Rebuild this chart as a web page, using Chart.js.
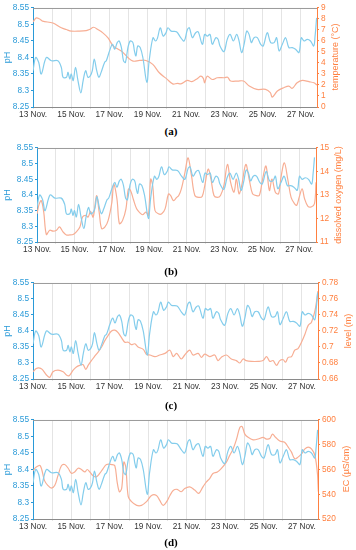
<!DOCTYPE html>
<html>
<head>
<meta charset="utf-8">
<script src="https://cdn.jsdelivr.net/npm/chart.js@4/dist/chart.umd.min.js"></script>
<style>
  body { margin: 0; background: #fff; width: 356px; height: 550px; position: relative; overflow: hidden;
         font-family: "Liberation Sans", Arial, sans-serif; }
  canvas { position: absolute; left: 0; }
  .rt  { position: absolute; color: #ff8040; font-size: 9px; white-space: nowrap;
         transform: translate(-50%, -50%) rotate(-90deg); }
  .lbl { position: absolute; font: bold 11px "Liberation Serif", "DejaVu Serif", serif; color: #000;
         transform: translate(-50%, -50%); }
</style>
</head>
<body>
<canvas id="ca"></canvas>
<canvas id="cb"></canvas>
<canvas id="cc"></canvas>
<canvas id="cd"></canvas>
<script>
// pH (same record in every panel), day of November
const phDays = [13.0, 13.14, 13.3, 13.43, 13.7, 13.96, 14.3, 14.48, 14.57, 14.75, 14.83, 14.92, 15.0, 15.1, 15.22,
  15.35, 15.5, 15.62, 15.75, 15.87, 16.0, 16.1, 16.2, 16.33, 16.44, 16.56, 16.74, 16.83, 17.0, 17.15, 17.27, 17.4,
  17.5, 17.62, 17.73, 17.83, 17.96, 18.08, 18.22, 18.3, 18.38, 18.47, 18.6, 18.74, 18.95, 19.07, 19.27, 19.4, 19.5,
  19.65, 19.8, 19.95, 20.05, 20.22, 20.5, 20.72, 20.9, 21.07, 21.17, 21.33, 21.5, 21.63, 21.85, 21.97, 22.11, 22.25,
  22.37, 22.55, 22.67, 22.77, 22.98, 23.15, 23.3, 23.47, 23.64, 23.76, 23.9, 24.03, 24.17, 24.29, 24.41, 24.55,
  24.72, 24.9, 25.03, 25.24, 25.42, 25.6, 25.73, 25.86, 26.03, 26.2, 26.37, 26.55, 26.72, 26.9, 27.02, 27.16,
  27.33, 27.5, 27.67, 27.74, 27.82];
const phValues = [8.36, 8.40, 8.385, 8.35, 8.40, 8.39, 8.39, 8.37, 8.34, 8.34, 8.355, 8.335, 8.35, 8.33, 8.37,
  8.33, 8.293, 8.33, 8.36, 8.34, 8.345, 8.36, 8.395, 8.36, 8.34, 8.355, 8.385, 8.39, 8.42, 8.44, 8.425, 8.445,
  8.45, 8.43, 8.39, 8.385, 8.43, 8.45, 8.445, 8.42, 8.405, 8.435, 8.43, 8.40, 8.325, 8.39, 8.46, 8.45, 8.458,
  8.49, 8.465, 8.475, 8.49, 8.48, 8.478, 8.46, 8.45, 8.485, 8.49, 8.46, 8.475, 8.478, 8.44, 8.47, 8.465, 8.47,
  8.44, 8.46, 8.455, 8.435, 8.418, 8.455, 8.47, 8.45, 8.47, 8.452, 8.415, 8.44, 8.48, 8.47, 8.445, 8.46,
  8.46, 8.44, 8.435, 8.475, 8.445, 8.445, 8.46, 8.42, 8.44, 8.46, 8.43, 8.43, 8.425, 8.415, 8.46, 8.45,
  8.455, 8.45, 8.435, 8.465, 8.52];

// (a) water temperature
const tempDays = [13.0, 13.17, 13.35, 13.5, 14.04, 14.48, 14.74, 15.0, 15.43, 15.78, 15.95, 16.17, 16.39, 16.65,
  16.92, 17.2, 17.63, 17.97, 18.23, 18.57, 18.9, 19.26, 19.6, 19.96, 20.3, 20.55, 20.72, 21.07, 21.3, 21.6, 21.77,
  21.9, 21.97, 22.1, 22.37, 22.63, 23.0, 23.17, 23.33, 23.7, 24.0, 24.3, 24.7, 25.15, 25.4, 25.5, 25.77, 26.1,
  26.37, 26.55, 26.8, 27.07, 27.42, 27.68, 27.84];
const tempValues = [7.73, 8.1, 8.0, 7.8, 7.64, 7.2, 7.04, 6.9, 6.9, 6.95, 7.04, 7.25, 7.04, 6.74,
  6.28, 5.53, 5.07, 4.47, 4.17, 4.23, 4.23, 3.87, 3.11, 2.6, 2.1, 2.15, 2.1, 2.42, 2.3, 2.6, 2.8,
  2.6, 2.2, 2.8, 2.5, 2.66, 2.66, 2.7, 2.36, 2.36, 2.36, 1.9, 1.6, 1.6, 1.3, 0.9, 1.45, 1.75,
  1.9, 1.7, 2.2, 2.42, 2.3, 2.2, 2.0];

// (b) dissolved oxygen
const doDays = [13.0, 13.11, 13.23, 13.36, 13.5, 13.68, 13.86, 14.04, 14.2, 14.39, 14.57, 14.75, 14.93, 15.1,
  15.29, 15.43, 15.61, 15.73, 15.86, 16.0, 16.18, 16.32, 16.45, 16.63, 16.8, 17.0, 17.1, 17.27, 17.4, 17.57,
  17.75, 17.88, 18.0, 18.14, 18.32, 18.46, 18.64, 18.82, 18.95, 19.07, 19.18, 19.3, 19.48, 19.66, 19.84, 20.02,
  20.14, 20.29, 20.46, 20.57, 20.71, 20.9, 21.07, 21.25, 21.43, 21.64, 21.82, 21.96, 22.14, 22.29, 22.45, 22.63,
  22.8, 22.98, 23.17, 23.34, 23.52, 23.65, 23.79, 23.93, 24.15, 24.33, 24.51, 24.69, 24.87, 25.05, 25.23, 25.41,
  25.55, 25.73, 25.9, 26.03, 26.21, 26.39, 26.57, 26.75, 26.87, 27.0, 27.16, 27.29, 27.46, 27.64, 27.82, 27.9];
const doValues = [12.2, 12.6, 12.76, 12.27, 11.32, 11.5, 11.46, 11.5, 11.64, 11.43, 11.3, 11.3, 11.32, 11.43,
  11.64, 12.06, 12.13, 12.06, 12.3, 12.06, 12.97, 12.27, 11.57, 11.64, 11.92, 12.7, 13.46, 12.83, 11.78, 11.92,
  12.41, 13.25, 13.18, 12.83, 12.41, 12.27, 12.16, 12.27, 12.13, 13.67, 13.39, 12.34, 12.2, 12.2, 12.41, 13.04,
  12.97, 12.76, 12.9, 12.98, 13.26, 13.95, 14.58, 13.82, 12.98, 12.9, 12.94, 13.4, 14.1, 13.68, 12.98, 12.9,
  12.98, 13.4, 14.3, 13.54, 13.12, 13.68, 13.05, 13.4, 14.3, 13.68, 13.05, 12.98, 12.98, 13.68, 14.23, 13.19,
  13.68, 13.12, 13.05, 13.75, 14.37, 13.68, 12.9, 12.63, 12.56, 12.9, 13.26, 12.84, 12.53, 12.49, 12.63, 13.54];

// (c) water level
const levelDays = [13.0, 13.17, 13.3, 13.48, 13.7, 13.87, 14.04, 14.3, 14.57, 14.74, 14.88, 15.09, 15.26, 15.43,
  15.6, 15.75, 15.87, 16.04, 16.2, 16.4, 16.57, 16.74, 16.9, 17.09, 17.26, 17.43, 17.6, 17.78, 17.96, 18.12, 18.3,
  18.47, 18.74, 18.9, 19.09, 19.35, 19.6, 19.87, 20.13, 20.3, 20.48, 20.72, 20.9, 21.16, 21.33, 21.6, 21.77, 21.94,
  22.2, 22.46, 22.63, 22.8, 23.07, 23.33, 23.59, 23.77, 23.94, 24.1, 24.37, 24.72, 24.98, 25.16, 25.33, 25.5,
  25.68, 25.85, 26.03, 26.15, 26.29, 26.46, 26.63, 26.8, 26.98, 27.16, 27.33, 27.5, 27.68, 27.84];
const levelValues = [0.669, 0.673, 0.674, 0.672, 0.665, 0.662, 0.669, 0.671, 0.669, 0.665, 0.664, 0.671, 0.675, 0.677,
  0.678, 0.672, 0.677, 0.683, 0.688, 0.694, 0.700, 0.708, 0.714, 0.720, 0.721, 0.718, 0.712, 0.706, 0.706, 0.703, 0.704,
  0.700, 0.697, 0.691, 0.690, 0.688, 0.690, 0.692, 0.696, 0.688, 0.692, 0.685, 0.690, 0.696, 0.690, 0.692, 0.687, 0.691,
  0.688, 0.690, 0.683, 0.687, 0.690, 0.685, 0.683, 0.680, 0.685, 0.683, 0.682, 0.682, 0.683, 0.688, 0.682, 0.683,
  0.677, 0.683, 0.684, 0.681, 0.687, 0.688, 0.696, 0.698, 0.706, 0.716, 0.727, 0.731, 0.745, 0.770];

// (d) electrical conductivity
const ecDays = [13.0, 13.17, 13.38, 13.6, 13.78, 13.96, 14.13, 14.3, 14.48, 14.65, 14.83, 15.0, 15.17, 15.35,
  15.52, 15.7, 15.82, 15.96, 16.13, 16.3, 16.48, 16.65, 16.83, 17.09, 17.26, 17.38, 17.5, 17.62, 17.73, 17.83,
  17.96, 18.13, 18.4, 18.65, 18.91, 19.17, 19.43, 19.6, 19.78, 19.96, 20.13, 20.3, 20.5, 20.72, 20.9, 21.16,
  21.42, 21.63, 21.85, 22.03, 22.2, 22.37, 22.6, 22.8, 23.07, 23.24, 23.42, 23.6, 23.77, 23.89, 24.03, 24.2,
  24.46, 24.72, 24.98, 25.16, 25.33, 25.47, 25.63, 25.85, 26.1, 26.29, 26.46, 26.63, 26.8, 26.98, 27.16, 27.33,
  27.5, 27.68, 27.82, 27.86];
const ecValues = [559, 562, 563, 551, 547, 545, 547, 555, 563, 564, 561, 557, 558, 561,
  560, 558, 560, 558, 555, 554, 557, 560.7, 564, 564, 563, 550, 542, 545, 566, 562,
  538, 534, 531, 531, 534, 539, 539, 535, 531, 534, 539, 543, 544, 542, 544.7, 546,
  543.4, 540.7, 546, 550, 552.7, 556.7, 558, 560.7, 566, 571.3, 576.6, 584.6, 593.9, 594.7, 588.6, 586,
  584, 584.6, 586, 584.6, 585, 588.6, 586, 583, 582, 578, 574, 568.6, 570, 572.6, 576.6, 578,
  576.6, 571.3, 555, 542];

const BLUE_AXIS = '#2a9ad8', BLUE_LINE = '#84cdec';
const ORANGE_AXIS = '#ff8040', ORANGE_LINE = '#f7ae94';
const FONT = { family: '"Liberation Sans", Arial, sans-serif', size: 8.3 };

const pairs = (xs, ys) => xs.map((x, i) => ({ x, y: ys[i] }));
const fmt = v => String(Math.round(v * 100) / 100);

// top border of each axes box
const boxTop = {
  id: 'boxTop',
  afterDraw(chart) {
    const { ctx, chartArea: a } = chart;
    ctx.save();
    ctx.strokeStyle = '#9a9a9a';
    ctx.lineWidth = 1;
    ctx.beginPath();
    ctx.moveTo(a.left, a.top + 0.5);
    ctx.lineTo(a.right, a.top + 0.5);
    ctx.stroke();
    ctx.restore();
  },
};

const panels = [
  { id: 'ca', plotTop: 7,   plotH: 100, left: 33, right: 39, xMax: 27.84,
    days: tempDays, values: tempValues, rMin: 0, rMax: 9, rStep: 1,
    rTitle: 'temperature (°C)', rtX: 335, label: '(a)', labelY: 131 },
  { id: 'cb', plotTop: 147, plotH: 95,  left: 37, right: 40, xMax: 27.9,
    days: doDays, values: doValues, rMin: 11, rMax: 15, rStep: 1,
    rTitle: 'dissolved oxygen (mg/L)', rtX: 338, label: '(b)', labelY: 271 },
  { id: 'cc', plotTop: 282, plotH: 97,  left: 33, right: 38, xMax: 27.84,
    days: levelDays, values: levelValues, rMin: 0.66, rMax: 0.78, rStep: 0.02,
    rTitle: 'level (m)', rtX: 348, label: '(c)', labelY: 405 },
  { id: 'cd', plotTop: 419, plotH: 100, left: 33, right: 38, xMax: 27.84,
    days: ecDays, values: ecValues, rMin: 520, rMax: 600, rStep: 20,
    rTitle: 'EC (µS/cm)', rtX: 346, label: '(d)', labelY: 542 },
];

panels.forEach(p => {
  const cv = document.getElementById(p.id);
  const padTop = 6, xH = 14;
  cv.width = 356;
  cv.height = padTop + p.plotH + xH;
  cv.style.top = (p.plotTop - padTop) + 'px';

  new Chart(cv, {
    type: 'line',
    data: {
      datasets: [
        { data: pairs(phDays, phValues), yAxisID: 'y', borderColor: BLUE_LINE,
          borderWidth: 1.2, pointRadius: 0, tension: 0.35 },
        { data: pairs(p.days, p.values), yAxisID: 'y2', borderColor: ORANGE_LINE,
          borderWidth: 1.2, pointRadius: 0, tension: 0.35 },
      ],
    },
    options: {
      responsive: false,
      animation: false,
      layout: { padding: { top: padTop, left: 0, right: 0, bottom: 0 } },
      plugins: { legend: { display: false }, tooltip: { enabled: false } },
      scales: {
        x: {
          type: 'linear', min: 13, max: p.xMax,
          afterFit: s => { s.width = s.width; s.height = xH; },
          ticks: { stepSize: 1, autoSkip: false, includeBounds: false, maxRotation: 0, padding: 1,
                   color: '#333', font: FONT,
                   callback: v => (Number.isInteger(v) && v % 2 === 1 ? v + ' Nov.' : '') },
          grid: { color: '#e4e4e4', lineWidth: 1, tickLength: 2 },
          border: { color: '#8a8a8a' },
        },
        y: {
          position: 'left', min: 8.25, max: 8.55,
          afterFit: s => { s.width = p.left; },
          ticks: { stepSize: 0.05, autoSkip: false, color: BLUE_AXIS, font: FONT, padding: 2, callback: fmt },
          grid: { drawOnChartArea: false, tickLength: 2, color: BLUE_AXIS },
          border: { color: BLUE_AXIS },
          title: { display: true, text: 'pH', color: BLUE_AXIS, padding: { top: 2, bottom: 0 },
                   font: { family: FONT.family, size: 9 } },
        },
        y2: {
          position: 'right', min: p.rMin, max: p.rMax,
          afterFit: s => { s.width = p.right; },
          ticks: { stepSize: p.rStep, autoSkip: false, color: ORANGE_AXIS, font: FONT, padding: 2, callback: fmt },
          grid: { drawOnChartArea: false, tickLength: 2, color: ORANGE_AXIS },
          border: { color: ORANGE_AXIS },
        },
      },
    },
    plugins: [boxTop],
  });

  const t = document.createElement('div');
  t.className = 'rt';
  t.textContent = p.rTitle;
  t.style.left = p.rtX + 'px';
  t.style.top = (p.plotTop + p.plotH / 2) + 'px';
  document.body.appendChild(t);

  const l = document.createElement('div');
  l.className = 'lbl';
  l.textContent = p.label;
  l.style.left = '171px';
  l.style.top = p.labelY + 'px';
  document.body.appendChild(l);
});
</script>
</body>
</html>
